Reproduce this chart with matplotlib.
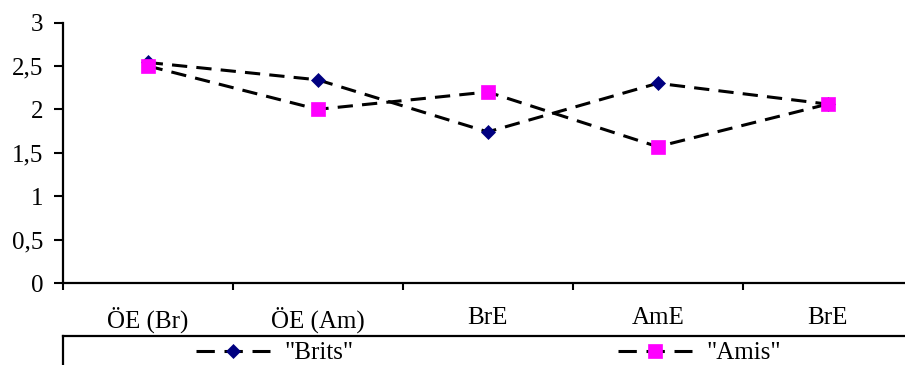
import matplotlib
matplotlib.use("Agg")
import matplotlib.pyplot as plt
from matplotlib.lines import Line2D
from matplotlib.ticker import FixedLocator, FuncFormatter

categories = ["ÖE (Br)", "ÖE (Am)", "BrE", "AmE", "BrE"]
brits = [2.54, 2.34, 1.74, 2.30, 2.06]
amis = [2.50, 2.00, 2.20, 1.57, 2.06]
series_labels = ['"Brits"', '"Amis"']
yticks = [0, 0.5, 1, 1.5, 2, 2.5, 3]

plt.rcParams['font.family'] = ['Liberation Serif', 'DejaVu Serif']
FS = 18

W, H = 905, 365
fig = plt.figure(figsize=(W / 100, H / 100), dpi=100)

x0, y0, y3 = 62.7, 283.0, 22.5
ax = fig.add_axes([x0 / W, 1 - y0 / H, 850 / W, (y0 - y3) / H])

LW = 2.2
dash = (0, (5.0, 3.0))
xs = list(range(len(categories)))
ax.plot(xs, brits, color='black', lw=LW, linestyle=dash, marker='D', ms=7.4,
        mfc='#000080', mec='#000080', mew=0.5, zorder=3, clip_on=False)
ax.plot(xs, amis, color='black', lw=LW, linestyle=dash, marker='s', ms=10.6,
        mfc='#FF00FF', mec='#FF00FF', mew=0.5, zorder=4, clip_on=False)

ax.set_xlim(-0.5, len(categories) - 0.5)
ax.set_ylim(0, 3)
for s in ['top', 'right']:
    ax.spines[s].set_visible(False)
for s in ['left', 'bottom']:
    ax.spines[s].set_linewidth(1.6)

ax.yaxis.set_major_locator(FixedLocator(yticks))
ax.yaxis.set_major_formatter(FuncFormatter(lambda v, p: (f"{v:g}").replace('.', ',')))
ax.tick_params(axis='y', direction='out', length=6.5, width=1.5, pad=7.5, labelsize=FS)

ax.set_xticks(xs)
ax.set_xticklabels(categories)
ax.set_xticks([i - 0.5 for i in range(len(categories) + 1)], minor=True)
ax.tick_params(axis='x', which='major', length=0, pad=17, labelsize=FS)
ax.tick_params(axis='x', which='minor', direction='out', length=5, width=1.5)

# legend area
ly = 336.0
lax = fig.add_axes([x0 / W, -0.3, 1.0, (H - ly) / H + 0.3])
lax.set_xticks([]); lax.set_yticks([])
for s in ['bottom', 'right']:
    lax.spines[s].set_visible(False)
for s in ['left', 'top']:
    lax.spines[s].set_linewidth(1.6)
lax.patch.set_alpha(0)

ldash = (0, (18 / 3.0, 9.5 / 3.0))
h1 = Line2D([], [], color='black', lw=LW, linestyle=ldash, marker='D', ms=7.0,
            mfc='#000080', mec='#000080', mew=0.5)
h2 = Line2D([], [], color='black', lw=LW, linestyle=ldash, marker='s', ms=10.6,
            mfc='#FF00FF', mec='#FF00FF', mew=0.5)
em = FS * 100 / 72
lax.legend([h1, h2], series_labels, ncol=2, loc='center left',
           bbox_to_anchor=(196 / W, 1 - 353 / H), bbox_transform=fig.transFigure,
           frameon=False, borderaxespad=0, borderpad=0, fontsize=FS,
           handlelength=74 / em, handletextpad=14 / em, columnspacing=265 / em)

fig.savefig("out.png", dpi=100)
